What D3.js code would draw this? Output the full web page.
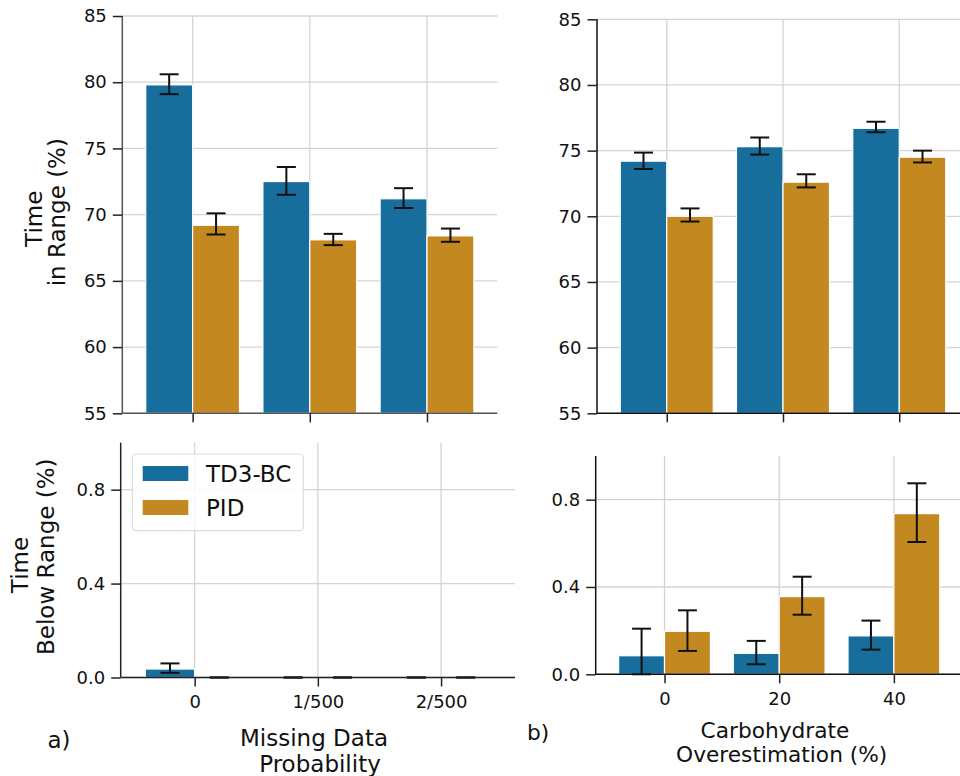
<!DOCTYPE html>
<html><head><meta charset="utf-8">
<script src="https://cdn.jsdelivr.net/npm/d3@7"></script>
<style>body{margin:0;background:#fff}svg{display:block;font-family:"DejaVu Sans",sans-serif}</style>
</head><body><svg id="c" width="960" height="776"></svg>
<script>
// ---- data ----
const series = ["TD3-BC", "PID"];
const colors = ["#176d9c", "#c38820"];
const groupsA = ["0", "1/500", "2/500"];
const groupsB = ["0", "20", "40"];
const tirTicks = [55, 60, 65, 70, 75, 80, 85];
const tbrTicks = [0, 0.4, 0.8];

const tirA_TD3 = [79.8, 72.5, 71.2], tirA_TD3_lo = [79.1, 71.5, 70.5], tirA_TD3_hi = [80.6, 73.6, 72.0];
const tirA_PID = [69.2, 68.1, 68.4], tirA_PID_lo = [68.5, 67.7, 67.95], tirA_PID_hi = [70.1, 68.55, 68.95];
const tirB_TD3 = [74.2, 75.3, 76.7], tirB_TD3_lo = [73.6, 74.7, 76.4], tirB_TD3_hi = [74.85, 76.0, 77.2];
const tirB_PID = [70.0, 72.6, 74.5], tirB_PID_lo = [69.6, 72.2, 74.1], tirB_PID_hi = [70.6, 73.2, 75.0];
const tbrA_TD3 = [0.036, 0, 0], tbrA_TD3_lo = [0.02, 0, 0], tbrA_TD3_hi = [0.06, 0, 0];
const tbrA_PID = [0, 0, 0], tbrA_PID_lo = [0, 0, 0], tbrA_PID_hi = [0, 0, 0];
const tbrB_TD3 = [0.085, 0.096, 0.176], tbrB_TD3_lo = [0, 0.046, 0.113], tbrB_TD3_hi = [0.209, 0.153, 0.246];
const tbrB_PID = [0.197, 0.356, 0.736], tbrB_PID_lo = [0.107, 0.273, 0.606], tbrB_PID_hi = [0.293, 0.447, 0.875];

// ---- layout ----
const svg = d3.select("#c");
const FT = 18, FL = 23, FLB = 21.7;

function panel(p) {
  const g = svg.append("g");
  const x = d3.scaleLinear().domain([-0.6, 2.6]).range([p.left, p.right]);
  const y = d3.scaleLinear().domain(p.ydom).range([p.bottom, p.top]);
  // grid
  g.append("g").selectAll("line.v").data(p.groups).join("line")
    .attr("x1", (d, i) => x(i)).attr("x2", (d, i) => x(i))
    .attr("y1", p.top).attr("y2", p.bottom)
    .attr("stroke", "#d4d4d4").attr("stroke-width", 1.3);
  g.append("g").selectAll("line.h").data(p.yticks).join("line")
    .attr("x1", p.left).attr("x2", p.right)
    .attr("y1", d => y(d)).attr("y2", d => y(d))
    .attr("stroke", "#d4d4d4").attr("stroke-width", 1.3);
  // bars
  p.vals.forEach((vals, s) => {
    g.append("g").selectAll("rect").data(vals).join("rect")
      .attr("x", (d, i) => x(i - 0.4 + 0.4 * s))
      .attr("width", x(0.4) - x(0))
      .attr("y", d => y(d)).attr("height", d => y(p.ydom[0]) - y(d))
      .attr("fill", colors[s]).attr("stroke", "#fff").attr("stroke-width", 1.2);
  });
  // error bars
  p.vals.forEach((vals, s) => {
    const eg = g.append("g").attr("stroke", "#111").attr("stroke-width", 2);
    vals.forEach((v, i) => {
      const cx = x(i - 0.2 + 0.4 * s);
      const lo = y(p.lo[s][i]), hi = y(p.hi[s][i]);
      eg.append("line").attr("x1", cx).attr("x2", cx).attr("y1", lo).attr("y2", hi);
      eg.append("line").attr("x1", cx - 9.5).attr("x2", cx + 9.5).attr("y1", lo).attr("y2", lo);
      eg.append("line").attr("x1", cx - 9.5).attr("x2", cx + 9.5).attr("y1", hi).attr("y2", hi);
    });
  });
  // axes
  const ya = g.append("g").attr("transform", `translate(${p.left},0)`)
    .call(d3.axisLeft(y).tickValues(p.yticks).tickSize(9.5).tickPadding(6).tickFormat(p.fmt));
  const xa = g.append("g").attr("transform", `translate(0,${p.bottom})`)
    .call(d3.axisBottom(x).tickValues([0, 1, 2]).tickSize(9).tickPadding(9)
      .tickFormat(p.xlabels ? ((d) => p.groups[d]) : () => ""));
  [ya, xa].forEach(a => {
    a.select(".domain").attr("stroke", p.spine).attr("stroke-width", 1.5);
    a.selectAll(".tick line").attr("stroke", "#222").attr("stroke-width", 1.5);
    a.selectAll(".tick text").attr("font-size", FT).attr("fill", "#111").attr("font-family", "DejaVu Sans");
  });
  ya.select(".domain").attr("d", `M0,${p.bottom}V${p.top}`);
  xa.select(".domain").attr("d", `M${p.left},0H${p.right}`);
  return g;
}

panel({left: 122.3, right: 497.3, top: 16, bottom: 413.3, ydom: [55, 85], yticks: tirTicks, groups: groupsA,
  vals: [tirA_TD3, tirA_PID], lo: [tirA_TD3_lo, tirA_PID_lo], hi: [tirA_TD3_hi, tirA_PID_hi],
  fmt: d3.format("d"), xlabels: false, spine: "#555"});
panel({left: 597, right: 969, top: 19.3, bottom: 413.3, ydom: [55, 85], yticks: tirTicks, groups: groupsB,
  vals: [tirB_TD3, tirB_PID], lo: [tirB_TD3_lo, tirB_PID_lo], hi: [tirB_TD3_hi, tirB_PID_hi],
  fmt: d3.format("d"), xlabels: false, spine: "#111"});
panel({left: 120.7, right: 515, top: 442.7, bottom: 677.5, ydom: [0, 1], yticks: tbrTicks, groups: groupsA,
  vals: [tbrA_TD3, tbrA_PID], lo: [tbrA_TD3_lo, tbrA_PID_lo], hi: [tbrA_TD3_hi, tbrA_PID_hi],
  fmt: d3.format(".1f"), xlabels: true, spine: "#222"});
panel({left: 595.7, right: 962.7, top: 456, bottom: 674.3, ydom: [0, 1], yticks: tbrTicks, groups: groupsB,
  vals: [tbrB_TD3, tbrB_PID], lo: [tbrB_TD3_lo, tbrB_PID_lo], hi: [tbrB_TD3_hi, tbrB_PID_hi],
  fmt: d3.format(".1f"), xlabels: true, spine: "#111"});

// axis labels
function rot(txt, cx, cy) {
  svg.append("text").attr("transform", `translate(${cx},${cy}) rotate(-90)`)
    .attr("text-anchor", "middle").attr("font-size", FL).attr("fill", "#111").text(txt);
}
rot("Time", 41.5, 218.8);
rot("in Range (%)", 65.3, 212.2);
rot("Time", 28.3, 565);
rot("Below Range (%)", 54.3, 556.7);
function txt(t, x, y, anchor, fs) {
  svg.append("text").attr("x", x).attr("y", y).attr("text-anchor", anchor || "middle")
    .attr("font-size", fs || FL).attr("fill", "#111").text(t);
}
txt("Missing Data", 314, 746);
txt("Probability", 320, 771.7);
txt("Carbohydrate", 775, 738.3, "middle", FLB);
txt("Overestimation (%)", 781.7, 762.3, "middle", FLB);
txt("a)", 47.5, 748, "start");
txt("b)", 527, 740, "start", FLB);

// legend
const lg = svg.append("g");
lg.append("rect").attr("x", 132.3).attr("y", 454).attr("width", 171).attr("height", 76.7)
  .attr("rx", 4).attr("fill", "#fff").attr("fill-opacity", 0.85).attr("stroke", "#dcdcdc").attr("stroke-width", 1.2);
series.forEach((s, i) => {
  lg.append("rect").attr("x", 142.7).attr("y", 466 + i * 34).attr("width", 45.6).attr("height", 15)
    .attr("fill", colors[i]);
  lg.append("text").attr("x", 206).attr("y", 481.5 + i * 34).attr("font-size", FL).attr("fill", "#111").text(s);
});
</script></body></html>
